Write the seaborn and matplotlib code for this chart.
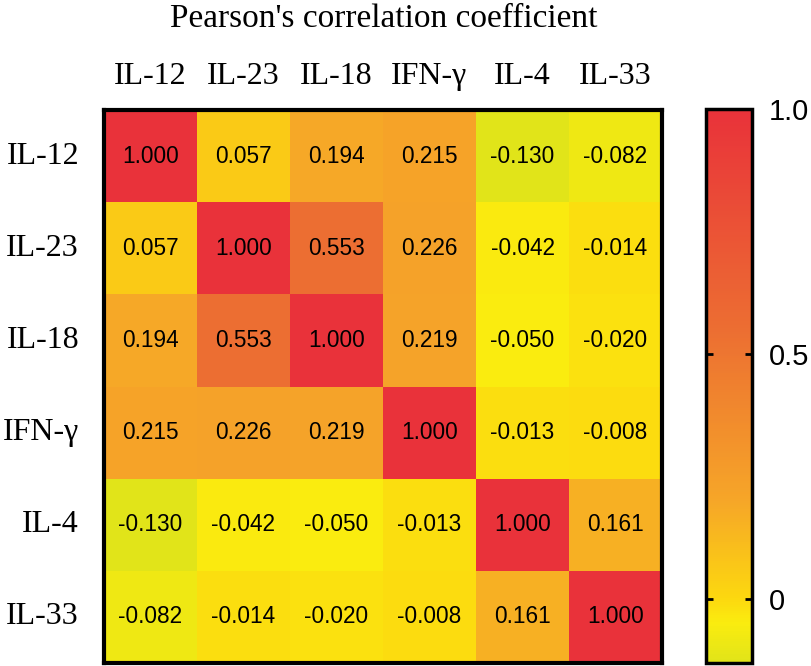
import numpy as np
import pandas as pd
import matplotlib
matplotlib.use("Agg")
import matplotlib.pyplot as plt
import seaborn as sns
from matplotlib.colors import LinearSegmentedColormap

labels = ["IL-12", "IL-23", "IL-18", "IFN-γ", "IL-4", "IL-33"]
row_il12 = [1.000, 0.057, 0.194, 0.215, -0.130, -0.082]
row_il23 = [0.057, 1.000, 0.553, 0.226, -0.042, -0.014]
row_il18 = [0.194, 0.553, 1.000, 0.219, -0.050, -0.020]
row_ifng = [0.215, 0.226, 0.219, 1.000, -0.013, -0.008]
row_il4 = [-0.130, -0.042, -0.050, -0.013, 1.000, 0.161]
row_il33 = [-0.082, -0.014, -0.020, -0.008, 0.161, 1.000]
title = "Pearson's correlation coefficient"
cbar_ticks = [0, 0.5, 1.0]
cbar_ticklabels = ["0", "0.5", "1.0"]

df = pd.DataFrame([row_il12, row_il23, row_il18, row_ifng, row_il4, row_il33],
                  index=labels, columns=labels)

vmin, vmax = -0.13, 1.0
def pos(v):
    return (v - vmin) / (vmax - vmin)
nodes = [
    (pos(-0.13), (225/255, 228/255, 25/255)),
    (pos(-0.05), (250/255, 236/255, 15/255)),
    (pos(0.0), (252/255, 216/255, 15/255)),
    (pos(0.2), (246/255, 166/255, 40/255)),
    (pos(0.55), (236/255, 110/255, 50/255)),
    (pos(1.0), (233/255, 50/255, 58/255)),
]
cmap = LinearSegmentedColormap.from_list("yor", nodes)

fig = plt.figure(figsize=(8.12, 6.66), dpi=100)
ax = fig.add_axes([104/812, 1 - 663/666, 558/812, 553/666])
cax = fig.add_axes([706/812, 1 - 663/666, 46/812, 554/666])

sns.heatmap(df, ax=ax, cmap=cmap, vmin=vmin, vmax=vmax, annot=True, fmt=".3f",
            annot_kws={"fontsize": 16.3, "color": "black", "family": "Liberation Sans"},
            cbar_ax=cax, cbar_kws={"ticks": cbar_ticks})

for s in ax.spines.values():
    s.set_visible(True)
    s.set_linewidth(3)
    s.set_color("black")

ax.xaxis.tick_top()
ax.tick_params(axis="x", length=0, pad=14)
ax.tick_params(axis="y", length=0, pad=18)
ax.set_xticklabels(labels, family="Liberation Serif", fontsize=23, rotation=0)
ax.set_yticklabels(labels, family="Liberation Serif", fontsize=23, rotation=0)
ax.set_xlabel("")
ax.set_ylabel("")
fig.text(384/812, 1 - 19/666, title, ha="center", va="center",
         family="Liberation Serif", fontsize=24)

cb = ax.collections[0].colorbar
cb.outline.set_linewidth(2.5)
cb.outline.set_edgecolor("black")
cax.yaxis.set_ticks_position("both")
cax.tick_params(axis="y", direction="in", length=5, width=2, labelsize=21, pad=12,
                left=True, right=True, labelleft=False, labelright=True)
cb.set_ticks(cbar_ticks)
cb.set_ticklabels(cbar_ticklabels)
for t in cax.get_yticklabels():
    t.set_family("Liberation Sans")

fig.savefig("out.png", dpi=100)
